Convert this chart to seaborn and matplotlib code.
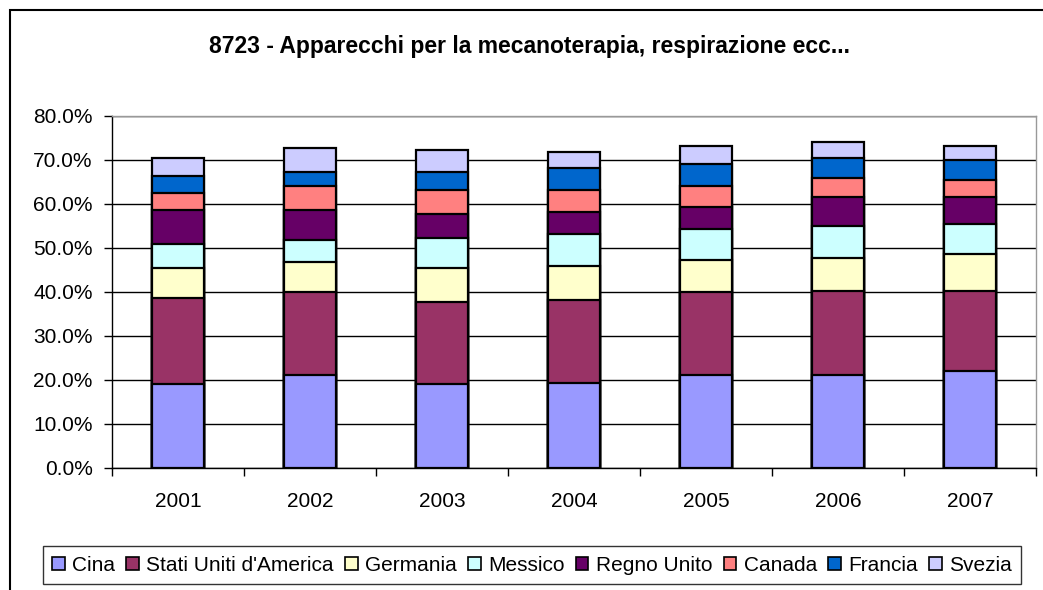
import pandas as pd
import matplotlib.pyplot as plt
import seaborn as sns
from matplotlib.patches import Rectangle, Patch
from matplotlib.ticker import FuncFormatter, FixedLocator

# values (% share per year)
years = ['2001', '2002', '2003', '2004', '2005', '2006', '2007']
cina = [19.0, 21.2, 19.0, 19.3, 21.2, 21.2, 22.1]
usa = [19.6, 18.8, 18.8, 18.9, 18.8, 19.1, 18.2]
germania = [6.8, 6.8, 7.6, 7.7, 7.3, 7.4, 8.3]
messico = [5.5, 5.0, 6.9, 7.2, 7.1, 7.2, 6.8]
regno_unito = [7.8, 6.9, 5.5, 5.0, 5.0, 6.8, 6.3]
canada = [3.9, 5.3, 5.4, 5.1, 4.6, 4.1, 3.7]
francia = [3.8, 3.3, 4.1, 5.0, 5.1, 4.6, 4.5]
svezia = [4.0, 5.5, 5.0, 3.7, 4.1, 3.7, 3.3]

series_names = ['Cina', "Stati Uniti d'America", 'Germania', 'Messico',
                'Regno Unito', 'Canada', 'Francia', 'Svezia']
colors = ['#9999FF', '#993366', '#FFFFCC', '#CCFFFF',
          '#660066', '#FF8080', '#0066CC', '#CCCCFF']

df = pd.DataFrame({'anno': years})
for name, vals in zip(series_names, [cina, usa, germania, messico,
                                     regno_unito, canada, francia, svezia]):
    df[name] = vals

sns.set_style('white', {'text.color': 'black', 'xtick.color': 'black',
                        'ytick.color': 'black'})
plt.rcParams['font.family'] = ['Liberation Sans', 'DejaVu Sans']

fig = plt.figure(figsize=(10.43, 5.9), dpi=100)
ax = fig.add_axes([0.1074, 0.2068, 0.8859, 0.5966])

# stacked bars: draw cumulative totals from the top series down
cum = df[series_names].cumsum(axis=1)
for name, col in reversed(list(zip(series_names, colors))):
    sns.barplot(x=df['anno'], y=cum[name], color=col, edgecolor='black',
                linewidth=1.6, width=0.39, saturation=1, ax=ax, zorder=3)

ax.set_ylim(0, 80)
ax.set_xlim(-0.5, 6.5)
ax.set_yticks(range(0, 81, 10))
ax.yaxis.set_major_formatter(FuncFormatter(lambda v, p: f'{v:.1f}%'))
ax.grid(axis='y', color='black', linewidth=1, zorder=0)
ax.set_axisbelow(True)
ax.set_xlabel('')
ax.set_ylabel('')

ax.xaxis.set_minor_locator(FixedLocator([i - 0.5 for i in range(8)]))
ax.tick_params(axis='x', which='major', length=0, labelsize=15, pad=17,
               labelcolor='black')
ax.tick_params(axis='x', which='minor', length=6, width=1, color='black',
               direction='out', bottom=True)
ax.tick_params(axis='y', length=6, width=1, color='black', direction='out',
               left=True, labelsize=15, pad=8, labelcolor='black')

for side in ['top', 'right']:
    ax.spines[side].set_color('#999999')
    ax.spines[side].set_linewidth(1)
for side in ['left', 'bottom']:
    ax.spines[side].set_color('black')
    ax.spines[side].set_linewidth(1)

fig.text(0.508, 0.921, '8723 - Apparecchi per la mecanoterapia, respirazione ecc...',
         ha='center', va='center', fontsize=16.5, fontweight='bold',
         color='black')

# outer chart frame
fig.patches.append(Rectangle((10 / 1043, -0.01), 1.0, 1 - 10 / 590 + 0.01,
                             transform=fig.transFigure, fill=False,
                             edgecolor='black', linewidth=1.5))

handles = [Patch(facecolor=c, edgecolor='black', linewidth=1.2) for c in colors]
leg = fig.legend(handles, series_names, loc='center', ncol=8,
                 bbox_to_anchor=(0.51, 0.042), fontsize=15, frameon=True,
                 fancybox=False, handlelength=0.6, handleheight=0.6,
                 handletextpad=0.35, columnspacing=0.55, borderpad=0.45,
                 borderaxespad=0)
leg.get_frame().set_edgecolor('black')
leg.get_frame().set_linewidth(1)
for t in leg.get_texts():
    t.set_color('black')

fig.savefig('out.png', dpi=100, facecolor='white')
